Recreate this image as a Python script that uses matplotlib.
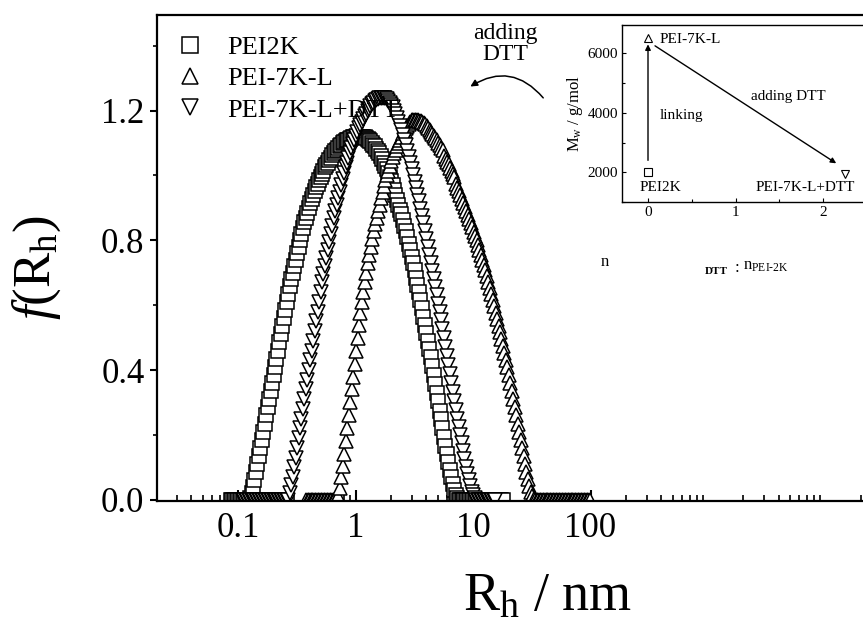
import numpy as np
import matplotlib
matplotlib.use("Agg")
import matplotlib.pyplot as plt
from matplotlib.patches import FancyArrowPatch
from matplotlib.ticker import LogLocator, NullFormatter, MultipleLocator

plt.rcParams['font.family'] = ['Liberation Serif', 'DejaVu Serif']
plt.rcParams['mathtext.fontset'] = 'custom'
plt.rcParams['mathtext.rm'] = 'Liberation Serif'
plt.rcParams['mathtext.it'] = 'Liberation Serif:italic'

# ---------------- data ----------------
# log10(Rh / nm) of the first point of each measured, log-spaced size grid
step = 0.0125
sq_log_start = -1.06   # PEI2K
up_log_start = -0.42   # PEI-7K-L
dn_log_start = -0.96   # PEI-7K-L+DTT

pei2k = ([0.0] * 13 +
         [0.005, 0.02, 0.04, 0.06, 0.085, 0.11, 0.135, 0.16, 0.185, 0.21,
          0.235, 0.26, 0.285, 0.31, 0.335, 0.36, 0.385, 0.41, 0.435, 0.46,
          0.485, 0.51, 0.535, 0.56, 0.585, 0.61, 0.635, 0.66, 0.68, 0.70,
          0.72, 0.74, 0.76, 0.78, 0.80, 0.82, 0.838, 0.855, 0.87, 0.885,
          0.90, 0.915, 0.928, 0.94, 0.953, 0.965, 0.975, 0.985, 0.995, 1.005,
          1.015, 1.025, 1.033, 1.04, 1.048, 1.055, 1.063, 1.07, 1.075, 1.08,
          1.085, 1.09, 1.095, 1.10, 1.103, 1.105, 1.108, 1.11, 1.113, 1.115,
          1.118, 1.12, 1.12, 1.12, 1.12, 1.12, 1.12, 1.12, 1.118, 1.115,
          1.113, 1.11, 1.105, 1.10, 1.095, 1.09, 1.083, 1.075, 1.068, 1.06,
          1.05, 1.04, 1.03, 1.02, 1.008, 0.995, 0.983, 0.97, 0.955, 0.94,
          0.925, 0.91, 0.895, 0.88, 0.863, 0.845, 0.828, 0.81, 0.79, 0.77,
          0.75, 0.73, 0.708, 0.685, 0.663, 0.64, 0.615, 0.59, 0.565, 0.54,
          0.515, 0.49, 0.465, 0.44, 0.413, 0.385, 0.358, 0.33, 0.303, 0.275,
          0.248, 0.22, 0.193, 0.165, 0.14, 0.115, 0.092, 0.07, 0.048, 0.03,
          0.015, 0.005] +
         [0.0] * 31)

pei7kl = ([0.0] * 22 +
          [0.01, 0.035, 0.07, 0.105, 0.14, 0.18, 0.22, 0.26, 0.30, 0.34,
           0.38, 0.42, 0.46, 0.50, 0.54, 0.575, 0.61, 0.64, 0.67, 0.70,
           0.73, 0.755, 0.78, 0.805, 0.83, 0.85, 0.87, 0.89, 0.91, 0.93,
           0.95, 0.968, 0.985, 1.0, 1.015, 1.03, 1.045, 1.058, 1.07, 1.08,
           1.09, 1.10, 1.11, 1.12, 1.13, 1.138, 1.145, 1.153, 1.16, 1.165,
           1.17, 1.17, 1.17, 1.17, 1.17,
           1.168, 1.167, 1.165, 1.162, 1.158, 1.154, 1.145, 1.140,
           1.134, 1.128, 1.122, 1.115, 1.108, 1.101, 1.094, 1.086, 1.078,
           1.061, 1.052, 1.043, 1.034, 1.024, 1.015, 1.004, 0.994, 0.973,
           0.962, 0.951, 0.939, 0.928, 0.916, 0.904, 0.891, 0.879, 0.866, 0.853,
           0.840, 0.827, 0.814, 0.800, 0.786, 0.771, 0.756, 0.740, 0.724, 0.707,
           0.690, 0.672, 0.654, 0.635, 0.616, 0.597, 0.577, 0.557, 0.537, 0.516,
           0.495, 0.474, 0.453, 0.431, 0.409, 0.385, 0.360, 0.335, 0.310, 0.285,
           0.260, 0.235, 0.210, 0.185, 0.160, 0.135, 0.110, 0.086, 0.063, 0.042,
           0.024, 0.010, 0.003] +
          [0.0] * 38)

pei7kl_dtt = ([0.0] * 32 +
              [0.02, 0.045, 0.07, 0.10, 0.13, 0.16, 0.19, 0.22, 0.25, 0.28,
               0.31, 0.34, 0.37, 0.40, 0.43, 0.46, 0.49, 0.52, 0.55, 0.58,
               0.61, 0.64, 0.67, 0.695, 0.72, 0.745, 0.77, 0.795, 0.82, 0.845,
               0.87, 0.89, 0.91, 0.93, 0.95, 0.97, 0.99, 1.008, 1.025, 1.04,
               1.055, 1.07, 1.085, 1.098, 1.11, 1.123, 1.135, 1.145, 1.155, 1.165,
               1.175, 1.183, 1.19, 1.198, 1.205, 1.213, 1.22, 1.225, 1.23, 1.233,
               1.235, 1.238, 1.24, 1.24, 1.24, 1.238, 1.235, 1.23, 1.225, 1.218,
               1.21, 1.20, 1.19, 1.178, 1.165, 1.153, 1.14, 1.125, 1.11, 1.093,
               1.075, 1.058, 1.04, 1.02, 1.00, 0.98, 0.96, 0.94, 0.92, 0.898,
               0.875, 0.853, 0.83, 0.805, 0.78, 0.755, 0.73, 0.705, 0.68, 0.655,
               0.63, 0.605, 0.58, 0.553, 0.525, 0.498, 0.47, 0.443, 0.415, 0.388,
               0.36, 0.333, 0.305, 0.278, 0.25, 0.225, 0.20, 0.175, 0.15, 0.125,
               0.10, 0.08, 0.06, 0.042, 0.025, 0.013, 0.005] +
              [0.0] * 14)

labels = ['PEI2K', 'PEI-7K-L', 'PEI-7K-L+DTT']

# inset data
inset_ratio = [0.0, 0.0, 2.25]          # n_DTT : n_PEI-2K
inset_mw = [2000, 6500, 1950]           # Mw / g/mol
inset_names = ['PEI2K', 'PEI-7K-L', 'PEI-7K-L+DTT']


def rh(start, n):
    return 10 ** (start + step * np.arange(n))


# ---------------- figure ----------------
W, H = 863, 627
fig = plt.figure(figsize=(W / 100, H / 100), dpi=100)


def box(l, r, t, b):
    return [l / W, 1 - b / H, (r - l) / W, (b - t) / H]


ax = fig.add_axes(box(157, 880, 15, 501))
ax.set_xscale('log')
px_dec = 117.5
u_left = -(355.5 - 157) / px_dec
u_right = u_left + (880 - 157) / px_dec
ax.set_xlim(10 ** u_left, 10 ** u_right)
ax.set_ylim(-0.004, 1.495)

mk = dict(linestyle='none', markerfacecolor='white', markeredgecolor='black',
          markeredgewidth=1.1)
ax.plot(rh(sq_log_start, len(pei2k)), pei2k, marker='s', markersize=9.5,
        label=labels[0], **mk)
ax.plot(rh(up_log_start, len(pei7kl)), pei7kl, marker='^', markersize=10.5,
        label=labels[1], **mk)
ax.plot(rh(dn_log_start, len(pei7kl_dtt)), pei7kl_dtt, marker='v',
        markersize=10.5, label=labels[2], **mk)

for s in ax.spines.values():
    s.set_linewidth(1.6)

ax.xaxis.set_minor_locator(LogLocator(base=10, subs=np.arange(2, 10), numticks=50))
ax.xaxis.set_minor_formatter(NullFormatter())
ax.set_xticks([0.1, 1, 10, 100])
ax.set_xticklabels(['0.1', '1', '10', '100'])
ax.tick_params(axis='x', which='major', direction='in', length=8, width=1.5,
               labelsize=25, pad=8, top=False)
ax.tick_params(axis='x', which='minor', direction='in', length=4, width=1.2,
               top=False)
ax.set_yticks([0.0, 0.4, 0.8, 1.2])
ax.set_yticklabels(['0.0', '0.4', '0.8', '1.2'])
ax.yaxis.set_minor_locator(MultipleLocator(0.2))
ax.tick_params(axis='y', which='major', direction='out', length=5, width=1.5,
               labelsize=25, pad=4, right=False)
ax.tick_params(axis='y', which='minor', direction='out', length=3, width=1.2,
               right=False)

fig.text(548 / W, 1 - 597 / H, r'R$_{\rm h}$ / nm', fontsize=39,
         ha='center', va='center')
fig.text(37 / W, 1 - 268 / H, r'$f$(R$_{\rm h}$)', fontsize=38,
         ha='center', va='center', rotation=90)

leg = ax.legend(loc='upper left', bbox_to_anchor=(0.026, 0.958), frameon=False,
                fontsize=19, handlelength=1.05, handletextpad=0.9,
                labelspacing=0.3, borderaxespad=0.0, borderpad=0.0)
leg.set_zorder(5)
for h in leg.legend_handles:
    h.set_markersize(11)

# curved arrow + text
fig.text(505 / W, 1 - 44 / H, 'adding\nDTT', fontsize=17, ha='center',
         va='center', linespacing=1.05)
arr = FancyArrowPatch((545 / W, 1 - 100 / H), (468 / W, 1 - 88 / H),
                      transform=fig.transFigure,
                      connectionstyle='arc3,rad=0.45', arrowstyle='-|>',
                      mutation_scale=10, color='black', lw=1.1)
fig.add_artist(arr)

# ---------------- inset ----------------
ins = fig.add_axes(box(622, 866, 25, 202))
ins.set_xlim(-0.297, 2.49)
ins.set_ylim(1000, 6950)
ims = dict(linestyle='none', markerfacecolor='white', markeredgecolor='black',
           markeredgewidth=0.8, markersize=6)
ins.plot(inset_ratio[0], inset_mw[0], marker='s', **ims)
ins.plot(inset_ratio[1], inset_mw[1], marker='^', **ims)
ins.plot(inset_ratio[2], inset_mw[2], marker='v', **ims)
ins.set_xticks([0, 1, 2])
ins.set_yticks([2000, 4000, 6000])
ins.xaxis.set_minor_locator(MultipleLocator(0.5))
ins.yaxis.set_minor_locator(MultipleLocator(1000))
ins.tick_params(which='both', direction='in', labelsize=11, length=3, width=0.8,
                top=False, right=False, pad=3)
ins.tick_params(which='minor', length=2)
for s in ins.spines.values():
    s.set_linewidth(1.0)

ins.annotate('', xy=(inset_ratio[1], 6300), xytext=(inset_ratio[0], 2400),
             arrowprops=dict(arrowstyle='-|>', color='black', lw=1.0,
                             mutation_scale=8, shrinkA=0, shrinkB=0))
ins.annotate('', xy=(2.15, 2300), xytext=(0.08, 6250),
             arrowprops=dict(arrowstyle='-|>', color='black', lw=1.0,
                             mutation_scale=8, shrinkA=0, shrinkB=0))
ins.text(0.13, 6450, inset_names[1], fontsize=11, ha='left', va='center')
ins.text(-0.1, 1500, inset_names[0], fontsize=11, ha='left', va='center')
ins.text(2.36, 1500, inset_names[2], fontsize=11, ha='right', va='center')
ins.text(0.13, 3900, 'linking', fontsize=11, ha='left', va='center')
ins.text(1.6, 4550, 'adding DTT', fontsize=11, ha='center', va='center')
ins.set_ylabel(r'M$_{\rm w}$ / g/mol', fontsize=12, labelpad=2)

fig.text(605 / W, 1 - 262 / H, 'n', fontsize=12, ha='center', va='center')
fig.text(705 / W, 1 - 272 / H, 'DTT', fontsize=8, ha='left', va='center',
         weight='bold')
fig.text(735 / W, 1 - 268 / H, ':', fontsize=12, ha='left', va='center')
fig.text(743 / W, 1 - 266 / H, r'n$_{\rm PEI\text{-}2K}$', fontsize=12,
         ha='left', va='center')

fig.savefig('out.png', dpi=100)
